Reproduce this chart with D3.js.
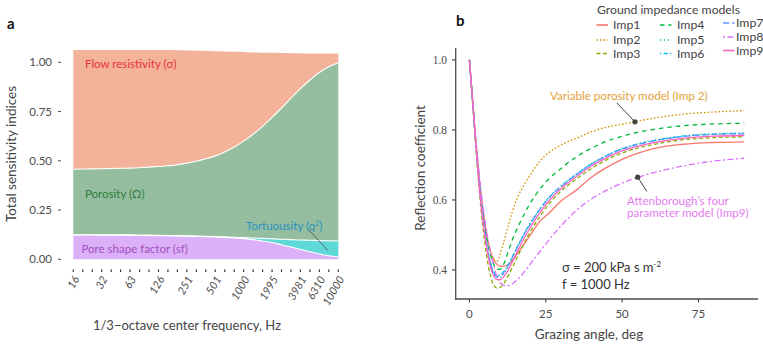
<!DOCTYPE html>
<html>
<head>
<meta charset="utf-8">
<script src="https://cdn.jsdelivr.net/npm/d3@7"></script>
<style>
  html, body { margin: 0; padding: 0; background: #fff; }
  svg { display: block; font-family: Lato, "Open Sans", sans-serif; }
</style>
</head>
<body>
<svg id="chart" width="763" height="351"></svg>
<script>
// ---------------- Panel a data ----------------
const freqBands = ["16","20","25","32","40","50","63","79","100","126","158","200","251","316","398","501","631","794","1000","1259","1585","1995","2512","3162","3981","5012","6310","7943","10000"];
const freqTickLabels = ["16","32","63","126","251","501","1000","1995","3981","6310","10000"];
const poreShape = [0.123,0.123,0.123,0.122,0.122,0.122,0.121,0.121,0.120,0.120,0.119,0.118,0.117,0.116,0.115,0.113,0.111,0.108,0.105,0.100,0.093,0.085,0.074,0.062,0.050,0.038,0.027,0.018,0.012];
const tortuosity = [0.002,0.002,0.002,0.003,0.002,0.002,0.003,0.002,0.003,0.002,0.002,0.002,0.002,0.002,0.002,0.003,0.003,0.004,0.005,0.008,0.013,0.019,0.028,0.038,0.048,0.059,0.068,0.076,0.081];
const porosity = [0.332,0.333,0.334,0.335,0.337,0.338,0.339,0.342,0.345,0.349,0.354,0.360,0.369,0.380,0.393,0.409,0.431,0.458,0.490,0.527,0.569,0.616,0.666,0.718,0.768,0.813,0.853,0.883,0.905];
const flowResistivity = [0.605,0.604,0.603,0.602,0.601,0.600,0.599,0.597,0.594,0.591,0.587,0.581,0.572,0.561,0.548,0.531,0.510,0.483,0.452,0.415,0.374,0.328,0.279,0.228,0.179,0.135,0.097,0.068,0.047];
const sensTicks = [0, 0.25, 0.5, 0.75, 1.0];

// ---------------- Panel b data ----------------
const angles = [0,1,2,3,4,5,6,7,8,9,10,11,12,13,14,16,18,20,23,26,30,35,40,45,50,55,60,70,80,90];
const imp1 = [1.0,0.89,0.78,0.68,0.60,0.535,0.485,0.45,0.428,0.416,0.411,0.41,0.412,0.418,0.427,0.45,0.475,0.50,0.538,0.562,0.597,0.628,0.665,0.693,0.716,0.733,0.746,0.759,0.764,0.766];
const imp2 = [1.0,0.89,0.78,0.68,0.60,0.53,0.48,0.447,0.43,0.425,0.443,0.473,0.505,0.535,0.565,0.612,0.645,0.673,0.71,0.735,0.757,0.776,0.795,0.808,0.816,0.825,0.833,0.845,0.851,0.855];
const imp3 = [1.0,0.88,0.76,0.65,0.555,0.48,0.42,0.38,0.355,0.348,0.35,0.358,0.372,0.388,0.406,0.443,0.478,0.51,0.552,0.588,0.625,0.66,0.69,0.715,0.734,0.748,0.758,0.772,0.778,0.78];
const imp4 = [1.0,0.89,0.775,0.675,0.59,0.525,0.475,0.44,0.415,0.403,0.402,0.412,0.435,0.46,0.485,0.525,0.56,0.592,0.63,0.66,0.69,0.723,0.748,0.768,0.782,0.793,0.801,0.812,0.817,0.819];
const imp5 = [1.0,0.885,0.77,0.665,0.578,0.508,0.452,0.412,0.387,0.378,0.379,0.387,0.4,0.416,0.434,0.47,0.504,0.534,0.574,0.607,0.64,0.674,0.704,0.728,0.747,0.76,0.77,0.783,0.789,0.791];
const imp6 = [1.0,0.885,0.77,0.667,0.582,0.513,0.458,0.418,0.393,0.385,0.386,0.393,0.405,0.42,0.437,0.472,0.505,0.534,0.573,0.606,0.639,0.673,0.703,0.727,0.746,0.759,0.769,0.782,0.788,0.79];
const imp7 = [1.0,0.885,0.77,0.665,0.58,0.51,0.455,0.415,0.39,0.381,0.382,0.39,0.402,0.418,0.435,0.47,0.503,0.532,0.572,0.605,0.638,0.672,0.702,0.726,0.745,0.758,0.768,0.781,0.787,0.789];
const imp8 = [1.0,0.89,0.785,0.69,0.61,0.545,0.49,0.448,0.41,0.382,0.365,0.357,0.355,0.356,0.36,0.375,0.395,0.418,0.452,0.485,0.526,0.57,0.603,0.628,0.648,0.664,0.677,0.697,0.711,0.719];
const imp9 = [1.0,0.885,0.77,0.66,0.57,0.50,0.445,0.405,0.382,0.373,0.372,0.378,0.39,0.405,0.422,0.458,0.492,0.522,0.563,0.597,0.632,0.667,0.697,0.721,0.74,0.753,0.763,0.776,0.782,0.784];
const impNames = ["Imp1","Imp2","Imp3","Imp4","Imp5","Imp6","Imp7","Imp8","Imp9"];
const angleTicks = [0, 25, 50, 75];
const reflTicks = [0.4, 0.6, 0.8, 1.0];

// ---------------- styles ----------------
const impColors = ["#F8766D","#D39200","#93AA00","#00BA38","#00C19F","#00B9E3","#619CFF","#DB72FB","#FF61C3"];
const impDash = [null,"1.6,2","4,2.5","4.5,4","1.2,2.6","1.2,2.4,4,2.4","6,3","2,2.5,6,2.5",null];

const svg = d3.select("#chart");
const grey = "#4d4d4d";

// ================= Panel a =================
const xA = d3.scalePoint().domain(freqBands).range([73.3, 338.3]);
const xAi = d3.scaleLinear().domain([0, freqBands.length - 1]).range([73.3, 338.3]);
const yA = d3.scaleLinear().domain([0, 1]).range([259.3, 62.3]);

const rows = freqBands.map((f, i) => ({
  f, sf: poreShape[i], tq: tortuosity[i], por: porosity[i], flow: flowResistivity[i]
}));
const stack = d3.stack().keys(["sf","tq","por","flow"]);
const layers = stack(rows);
const areaFills = {sf:"#dcb0f8", tq:"#5fd8d8", por:"#94be9f", flow:"#f3b29a"};
const area = d3.area()
  .x(d => xA(d.data.f))
  .y0(d => yA(d[0]))
  .y1(d => yA(d[1]))
  .curve(d3.curveMonotoneX);

const gA = svg.append("g");
gA.selectAll("path.layer").data(layers).join("path")
  .attr("class","layer")
  .attr("d", area)
  .attr("fill", d => areaFills[d.key]);
const topLine = d3.line().x(d => xA(d.data.f)).y(d => yA(d[1])).curve(d3.curveMonotoneX);
gA.selectAll("path.edge").data(layers.slice(0,3)).join("path")
  .attr("class","edge")
  .attr("d", topLine)
  .attr("fill","none").attr("stroke","#fff").attr("stroke-width",1.1);

sensTicks.forEach(t => {
  gA.append("line").attr("x1",58).attr("x2",61).attr("y1",yA(t)).attr("y2",yA(t))
    .attr("stroke",grey).attr("stroke-width",1);
  gA.append("text").attr("x",52).attr("y",yA(t)).attr("dy","0.35em")
    .attr("text-anchor","end").attr("font-size",11.5).attr("fill",grey)
    .text(d3.format(".2f")(t));
});
freqBands.forEach(f => {
  gA.append("line").attr("x1",xA(f)).attr("x2",xA(f)).attr("y1",269.5).attr("y2",272)
    .attr("stroke","#333").attr("stroke-width",1.2);
});
freqTickLabels.forEach(f => {
  const x = xA(f);
  gA.append("text")
    .attr("transform",`translate(${x+3},${277}) rotate(-60)`)
    .attr("text-anchor","end").attr("dy","0.35em")
    .attr("font-size",11).attr("fill",grey).attr("font-style","italic")
    .text(f);
});
gA.append("text").attr("transform","translate(16,154) rotate(-90)")
  .attr("text-anchor","middle").attr("font-size",13.5).attr("fill","#444")
  .text("Total  sensitivity indices");
gA.append("text").attr("x",187).attr("y",330)
  .attr("text-anchor","middle").attr("font-size",13).attr("fill","#444")
  .text("1/3\u2212octave center frequency, Hz");
svg.append("text").attr("x",7).attr("y",29).attr("font-size",15).attr("font-weight","bold")
  .attr("fill","#111").text("a");

gA.append("text").attr("x",85).attr("y",68).attr("font-size",11.5).attr("fill","#e8323c")
  .text("Flow resistivity (\u03c3)");
gA.append("text").attr("x",85).attr("y",198).attr("font-size",11.5).attr("fill","#2f7d3a")
  .text("Porosity (\u03a9)");
gA.append("text").attr("x",81.5).attr("y",253).attr("font-size",11.5).attr("fill","#a050c0")
  .text("Pore shape factor (sf)");
const tq = gA.append("text").attr("x",246).attr("y",230).attr("font-size",11.5).attr("fill","#2a93c0");
tq.append("tspan").text("Tortuousity (q");
tq.append("tspan").attr("dy",-4).attr("font-size",7).text("2");
tq.append("tspan").attr("dy",4).text(")");
const tqLeader = [[24.9, 0.149],[26.9, 0.044]];
gA.append("line")
  .attr("x1",xAi(tqLeader[0][0])).attr("y1",yA(tqLeader[0][1]))
  .attr("x2",xAi(tqLeader[1][0])).attr("y2",yA(tqLeader[1][1]))
  .attr("stroke","#555").attr("stroke-width",0.9);

// ================= Panel b =================
const xB = d3.scaleLinear().domain([-4.5, 94.5]).range([455.7, 758]);
const yB = d3.scaleLinear().domain([0.317, 1.034]).range([299, 48]);
const gB = svg.append("g");

const series = [imp1,imp2,imp3,imp4,imp5,imp6,imp7,imp8,imp9];
const line = d3.line().x((d,i) => xB(angles[i])).y(d => yB(d)).curve(d3.curveMonotoneX);
series.forEach((s, k) => {
  gB.append("path").attr("d", line(s))
    .attr("fill","none").attr("stroke",impColors[k])
    .attr("stroke-width",1.3)
    .attr("stroke-dasharray",impDash[k]);
});

gB.append("line").attr("x1",xB.range()[0]).attr("x2",xB.range()[0]).attr("y1",48).attr("y2",299.5)
  .attr("stroke",grey).attr("stroke-width",1.3);
gB.append("line").attr("x1",xB.range()[0]-0.6).attr("x2",758).attr("y1",299).attr("y2",299)
  .attr("stroke",grey).attr("stroke-width",1.3);
reflTicks.forEach(t => {
  gB.append("line").attr("x1",452).attr("x2",455.7).attr("y1",yB(t)).attr("y2",yB(t))
    .attr("stroke",grey).attr("stroke-width",1.2);
  gB.append("text").attr("x",447).attr("y",yB(t)).attr("dy","0.35em")
    .attr("text-anchor","end").attr("font-size",11.5).attr("fill",grey)
    .attr("font-family","'Liberation Serif', serif")
    .text(d3.format(".1f")(t));
});
angleTicks.forEach(t => {
  gB.append("line").attr("x1",xB(t)).attr("x2",xB(t)).attr("y1",299).attr("y2",302.5)
    .attr("stroke",grey).attr("stroke-width",1.2);
  gB.append("text").attr("x",xB(t)).attr("y",318).attr("text-anchor","middle")
    .attr("font-size",11.5).attr("fill",grey).text(t);
});
gB.append("text").attr("transform","translate(425,168) rotate(-90)")
  .attr("text-anchor","middle").attr("font-size",13.5).attr("fill","#444")
  .text("Reflection coefficient");
gB.append("text").attr("x",589).attr("y",339).attr("text-anchor","middle")
  .attr("font-size",13.5).attr("fill","#444").text("Grazing angle, deg");
svg.append("text").attr("x",456).attr("y",26).attr("font-size",15).attr("font-weight","bold")
  .attr("fill","#111").text("b");

const annoVP = {dot:[54.2, 0.823], from:[48.3, 0.877]};
const annoAT = {dot:[55.1, 0.665], from:[58.1, 0.624]};
[annoVP, annoAT].forEach(a => {
  gB.append("line").attr("x1",xB(a.from[0])).attr("y1",yB(a.from[1]))
    .attr("x2",xB(a.dot[0])).attr("y2",yB(a.dot[1]))
    .attr("stroke","#444").attr("stroke-width",1);
  gB.append("circle").attr("cx",xB(a.dot[0])).attr("cy",yB(a.dot[1])).attr("r",2.6)
    .attr("fill","#444");
});
gB.append("text").attr("x",550).attr("y",100).attr("font-size",11.6).attr("fill","#e3a13a")
  .text("Variable porosity model (Imp 2)");
const att = gB.append("text").attr("x",627).attr("y",205).attr("font-size",11.6).attr("fill","#e57cf0");
att.append("tspan").attr("x",627).text("Attenborough\u2019s four");
att.append("tspan").attr("x",627).attr("dy",12.3).text("parameter model (Imp9)");
const sig = gB.append("text").attr("x",562).attr("y",272).attr("font-size",13).attr("fill","#333");
sig.append("tspan").text("\u03c3 = 200 kPa s m");
sig.append("tspan").attr("dy",-5).attr("font-size",8).text("-2");
gB.append("text").attr("x",562).attr("y",289).attr("font-size",13).attr("fill","#333")
  .text("f = 1000 Hz");

// legend
const gL = svg.append("g");
gL.append("text").attr("x",597).attr("y",14).attr("font-size",12.2).attr("fill","#444")
  .text("Ground impedance models");
const legCols = [{kx:596.5, tx:613, ys:[25,40,53.5]},{kx:660, tx:677, ys:[25,40,53.5]},{kx:723, tx:736, ys:[23,37,50.5]}];
impNames.forEach((n, k) => {
  const c = legCols[Math.floor(k/3)], y = c.ys[k%3];
  gL.append("line").attr("x1",c.kx).attr("x2",c.kx+11.5).attr("y1",y).attr("y2",y)
    .attr("stroke",impColors[k]).attr("stroke-width",1.6).attr("stroke-dasharray",impDash[k]);
  gL.append("text").attr("x",c.tx).attr("y",y).attr("dy","0.36em")
    .attr("font-size",12.3).attr("fill","#444").text(n);
});
</script>
</body>
</html>
